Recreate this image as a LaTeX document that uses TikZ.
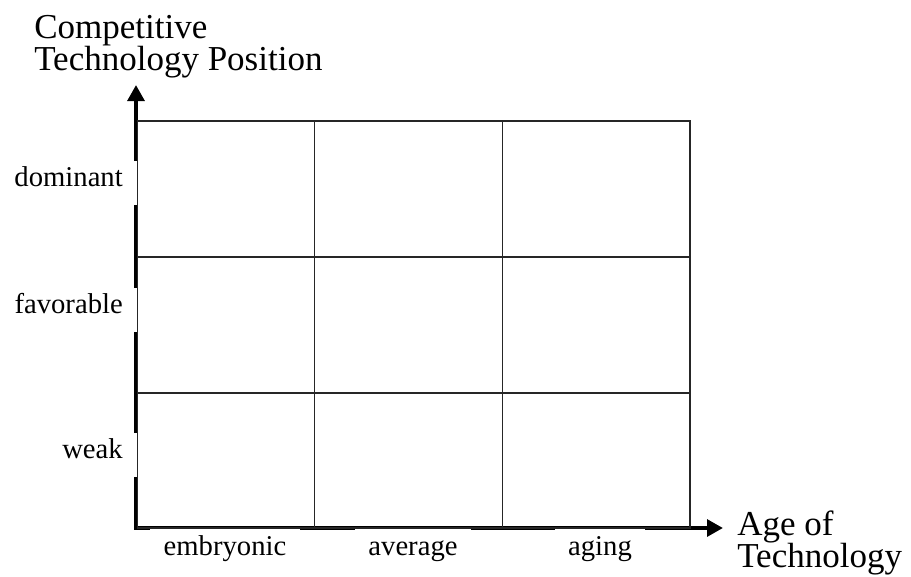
\documentclass[tikz,border=0pt]{standalone}
\usepackage{fontspec}
\setmainfont{Liberation Serif}
\usetikzlibrary{arrows.meta}
\begin{document}
\begin{tikzpicture}[x=0.75pt,y=-0.75pt,
  axisline/.style={line width=3.4pt, line join=miter,
    {Triangle[length=12pt,width=12.5pt]}-{Triangle[length=12pt,width=12.5pt]}},
  gridline/.style={line width=0.8pt, black!85},
  labelfont/.style={font=\fontsize{21.5pt}{24pt}\selectfont, text height=0.75em, text depth=0.19em},
  rowlabel/.style={labelfont, fill=white, anchor=east, inner xsep=11.6pt, inner ysep=0pt, minimum height=33pt},
  collabel/.style={labelfont, fill=white, anchor=base, inner xsep=10pt, inner ysep=0pt, minimum height=36pt},
  axistitle/.style={font=\fontsize{26.25pt}{24pt}\selectfont, align=left, anchor=north west, inner sep=0pt}]
\useasboundingbox (0,0) rectangle (911,576);

% axes
\coordinate (O) at (136,528);
\coordinate (ytip) at (136,85);
\coordinate (xtip) at (723,528);
\draw[axisline] (ytip) -- (O) -- (xtip);

% row and column labels, masking the axes
\node[rowlabel] (dominant) at (138.5,182.5) {dominant};
\node[rowlabel] (favorable) at (138.5,310) {favorable};
\node[rowlabel] (weak) at (138.5,455) {weak};
\node[collabel] (embryonic) at (225,555) {embryonic};
\node[collabel] (average) at (413,555) {average};
\node[collabel] (aging) at (600,555) {aging};

% 3x3 grid
\draw[gridline] (137.5,121) rectangle (690,528);
\draw[gridline] (314.5,121) -- (314.5,528);
\draw[gridline] (502.5,121) -- (502.5,528);
\draw[gridline] (137.5,257) -- (690,257);
\draw[gridline] (137.5,393) -- (690,393);

% axis titles
\node[axistitle] (ytitle) at (34,15) {Competitive\\Technology Position};
\node[axistitle] (xtitle) at (737,511) {Age of\\Technology};
\end{tikzpicture}
\end{document}
